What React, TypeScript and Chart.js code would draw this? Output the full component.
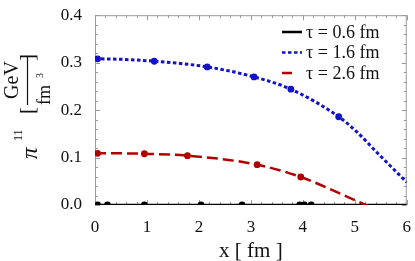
import React, { useEffect, useRef } from "react";
import { Chart, registerables } from "chart.js";

Chart.register(...registerables);

// ---- data ----
const blackLineX = [0, 6];
const blackLineY = [0, 0];
const blackPtsX = [0.05, 0.24, 0.95, 2.04, 2.83, 3.94, 4.03, 4.16];
const blackPtsY = [0, 0, 0, 0, 0, 0, 0, 0];

const blueCurveX = [0, 0.05, 1.14, 2.16, 3.06, 3.77, 4.69, 5.05, 5.45, 6.0];
const blueCurveY = [0.308, 0.308, 0.303, 0.291, 0.27, 0.244, 0.186, 0.153, 0.108, 0.048];
const bluePtsX = [0.05, 1.14, 2.16, 3.06, 3.77, 4.69];
const bluePtsY = [0.308, 0.303, 0.291, 0.27, 0.244, 0.186];

const redCurveX = [0, 0.05, 0.95, 1.78, 3.12, 3.96, 4.8, 5.21, 5.5];
const redCurveY = [0.109, 0.109, 0.108, 0.104, 0.085, 0.059, 0.02, 0.0, -0.016];
const redPtsX = [0.05, 0.95, 1.78, 3.12, 3.96];
const redPtsY = [0.109, 0.108, 0.104, 0.085, 0.059];

const legendLabels = ["τ = 0.6 fm", "τ = 1.6 fm", "τ = 2.6 fm"];
const xTickValues = [0, 1, 2, 3, 4, 5, 6];
const yTickValues = [0, 0.1, 0.2, 0.3, 0.4];

const BLACK = "#000000";
const BLUE = "rgb(18,18,200)";
const RED = "rgb(178,0,0)";
const FONT = "'Liberation Serif', 'DejaVu Serif', serif";

const zip = (xs: number[], ys: number[]) => xs.map((x, i) => ({ x, y: ys[i] }));

const legendStyles = [
  { color: BLACK, dash: [] as number[], len: 20 },
  { color: BLUE, dash: [3.5, 2.5], len: 20 },
  { color: RED, dash: [10, 5], len: 10 },
];

const framePlugin = {
  id: "frameTicks",
  beforeDatasetsDraw(chart: any) {
    const { ctx, chartArea: a, scales } = chart;
    const xs = scales.x;
    const ys = scales.y;
    ctx.save();
    ctx.strokeStyle = "#9a9a9a";
    ctx.lineWidth = 1;
    ctx.strokeRect(a.left + 0.5, a.top + 0.5, a.right - a.left - 1, a.bottom - a.top - 1);
    ctx.beginPath();
    for (let i = 0; i <= 30; i++) {
      const v = i * 0.2;
      const px = Math.round(xs.getPixelForValue(v)) + 0.5;
      const len = i % 5 === 0 ? 5 : 3;
      ctx.moveTo(px, a.bottom);
      ctx.lineTo(px, a.bottom - len);
      ctx.moveTo(px, a.top);
      ctx.lineTo(px, a.top + len);
    }
    for (let i = 0; i <= 20; i++) {
      const v = i * 0.02;
      const py = Math.round(ys.getPixelForValue(v)) + 0.5;
      const len = i % 5 === 0 ? 5 : 3;
      ctx.moveTo(a.left, py);
      ctx.lineTo(a.left + len, py);
      ctx.moveTo(a.right, py);
      ctx.lineTo(a.right - len, py);
    }
    ctx.stroke();
    ctx.restore();
  },
  afterDraw(chart: any) {
    const { ctx, chartArea: a } = chart;
    ctx.save();
    // legend
    ctx.font = `18px ${FONT}`;
    ctx.textBaseline = "alphabetic";
    ctx.textAlign = "left";
    legendLabels.forEach((lab, i) => {
      const st = legendStyles[i];
      const cy = 32 + i * 20.5;
      ctx.strokeStyle = st.color;
      ctx.lineWidth = 2.5;
      ctx.setLineDash(st.dash);
      ctx.beginPath();
      ctx.moveTo(282, cy);
      ctx.lineTo(282 + st.len, cy);
      ctx.stroke();
      ctx.setLineDash([]);
      ctx.fillStyle = "#111";
      ctx.fillText(lab, 306, cy + 5.5);
    });
    // x title
    ctx.font = `21px ${FONT}`;
    ctx.textAlign = "center";
    ctx.fillStyle = "#111";
    ctx.fillText("x [ fm ]", (a.left + a.right) / 2, 257);
    // y title (rotated, reads bottom to top)
    ctx.rotate(-Math.PI / 2);
    ctx.textAlign = "left";
    ctx.font = `italic 23px ${FONT}`;
    ctx.fillText("π", -159, 37);
    ctx.font = `12px ${FONT}`;
    ctx.fillText("11", -141, 22);
    ctx.font = `21px ${FONT}`;
    ctx.textAlign = "right";
    ctx.fillText("[", -107, 34);
    ctx.textAlign = "left";
    ctx.fillText("]", -61, 34);
    ctx.font = `20px ${FONT}`;
    ctx.textAlign = "center";
    ctx.fillText("GeV", -80, 18);
    ctx.textAlign = "left";
    ctx.font = `18px ${FONT}`;
    ctx.fillText("fm", -105, 50);
    ctx.font = `10px ${FONT}`;
    ctx.fillText("3", -78, 43);
    ctx.strokeStyle = "#111";
    ctx.lineWidth = 1.2;
    ctx.beginPath();
    ctx.moveTo(-105, 27.5);
    ctx.lineTo(-56, 27.5);
    ctx.stroke();
    ctx.restore();
  },
};

export default function App() {
  const ref = useRef<HTMLCanvasElement | null>(null);
  useEffect(() => {
    document.body.style.margin = "0";
    const canvas = ref.current!;
    const lineDs = (label: string, xs: number[], ys: number[], color: string, dash: number[], w: number) => ({
      label,
      data: zip(xs, ys),
      showLine: true,
      borderColor: color,
      backgroundColor: color,
      borderWidth: w,
      borderDash: dash,
      pointRadius: 0,
      cubicInterpolationMode: "monotone" as const,
    });
    const ptsDs = (xs: number[], ys: number[], color: string) => ({
      label: "",
      data: zip(xs, ys),
      showLine: false,
      borderColor: color,
      backgroundColor: color,
      pointRadius: 3.4,
      pointBorderWidth: 0,
    });
    const chart = new Chart(canvas, {
      type: "scatter",
      data: {
        datasets: [
          lineDs(legendLabels[2], redCurveX, redCurveY, RED, [11, 5], 2.5),
          ptsDs(redPtsX, redPtsY, RED),
          lineDs(legendLabels[1], blueCurveX, blueCurveY, BLUE, [3.5, 2.5], 3),
          ptsDs(bluePtsX, bluePtsY, BLUE),
          lineDs(legendLabels[0], blackLineX, blackLineY, BLACK, [], 2.5),
          ptsDs(blackPtsX, blackPtsY, BLACK),
        ] as any,
      },
      plugins: [framePlugin],
      options: {
        animation: false,
        responsive: false,
        devicePixelRatio: 1,
        layout: { padding: { left: 0, top: 10, right: 5, bottom: 0 } },
        plugins: { legend: { display: false }, tooltip: { enabled: false } },
        scales: {
          x: {
            type: "linear",
            min: 0,
            max: 6,
            afterBuildTicks: (s: any) => {
              s.ticks = xTickValues.map((v) => ({ value: v }));
            },
            afterFit: (s: any) => {
              s.height = 56;
            },
            grid: { display: false },
            border: { display: false },
            ticks: {
              font: { family: FONT, size: 17 },
              color: "#111",
              padding: 4,
              maxRotation: 0,
              callback: (v: any) => String(v),
            },
          },
          y: {
            type: "linear",
            min: 0,
            max: 0.4,
            afterBuildTicks: (s: any) => {
              s.ticks = yTickValues.map((v) => ({ value: v }));
            },
            afterFit: (s: any) => {
              s.width = 95;
            },
            grid: { display: false },
            border: { display: false },
            ticks: {
              font: { family: FONT, size: 17 },
              color: "#111",
              padding: 5,
              callback: (v: any) => Number(v).toFixed(1),
            },
          },
        },
      } as any,
    });
    return () => chart.destroy();
  }, []);
  return <canvas ref={ref} width={415} height={261} style={{ display: "block", width: 415, height: 261 }} />;
}
